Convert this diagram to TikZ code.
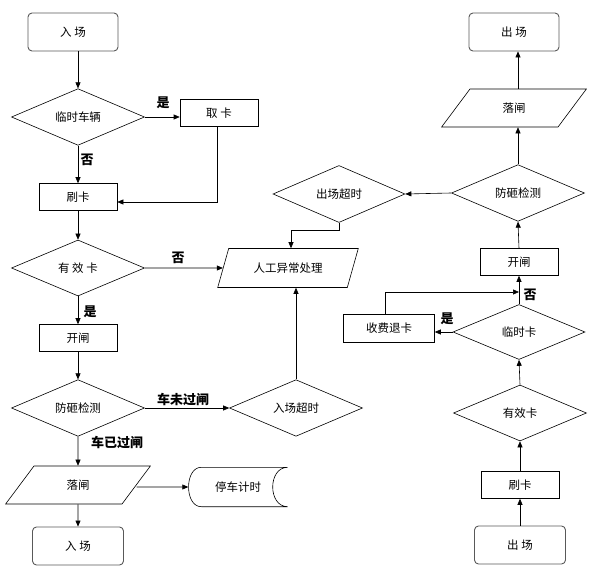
\documentclass[tikz,border=0pt]{standalone}
\usepackage{fontspec}
\setmainfont{Noto Sans CJK SC}
\usetikzlibrary{shapes.geometric,arrows.meta}
\begin{document}
\begin{tikzpicture}[x=1pt,y=-1pt,
  every node/.style={font=\fontsize{11.5}{14}\selectfont,inner sep=0pt},
  term/.style={draw=black!65,line width=0.9pt,rounded corners=4pt,minimum width=90pt,minimum height=38pt},
  proc/.style={draw,line width=0.6pt,minimum width=78pt,minimum height=27pt},
  decide/.style={diamond,draw,line width=0.6pt,minimum width=133pt,minimum height=56pt},
  io/.style={trapezium,trapezium left angle=55,trapezium right angle=125,trapezium stretches=true,draw,line width=0.6pt,minimum width=145pt,minimum height=38pt},
  tag/.style={font=\bfseries\fontsize{13}{15}\selectfont},
  flow/.style={-{Triangle[length=6pt,width=5pt]},line width=0.6pt}]
\useasboundingbox (0,0) rectangle (595,572);
% entry side
\node[term] (in1) at (73,32) {入 场};
\node[decide] (tmp) at (78,117) {临时车辆};
\node[proc] (take) at (219,113) {取 卡};
\node[proc] (swipe1) at (78,197) {刷卡};
\node[decide] (valid1) at (78,268) {有 效 卡};
\node[io,trapezium left angle=59,trapezium right angle=121,minimum width=141pt,minimum height=39pt] (manual) at (288,268) {人工异常处理};
\node[proc] (open1) at (78,338) {开闸};
\node[decide] (guard1) at (78,408) {防砸检测};
\node[decide] (intimeout) at (296,408) {入场超时};
\node[io] (drop1) at (78,485) {落闸};
\node[minimum width=99pt,minimum height=39pt] (timer) at (238,487) {停车计时};
\node[term,minimum width=91pt] (in2) at (78,546) {入 场};
\draw[line width=0.6pt] ([xshift=13pt]timer.north west) -- (timer.north east)
  .. controls ([xshift=-20pt]timer.north east) and ([xshift=-20pt]timer.south east) .. (timer.south east)
  -- ([xshift=13pt]timer.south west)
  .. controls ([xshift=-4pt]timer.south west) and ([xshift=-4pt]timer.north west) .. cycle;
% exit side
\node[term] (out1) at (514,32) {出 场};
\node[io] (drop2) at (514,108) {落闸};
\node[decide] (guard2) at (518,193) {防砸检测};
\node[decide,minimum width=132pt,minimum height=57pt] (outtimeout) at (339,194) {出场超时};
\node[proc] (open2) at (519,262) {开闸};
\node[decide,minimum width=132pt,minimum height=55pt] (tmpcard) at (519,332) {临时卡};
\node[proc,minimum width=91pt,minimum height=28pt] (refund) at (389,328) {收费退卡};
\node[decide] (valid2) at (520,413) {有效卡};
\node[proc] (swipe2) at (520,485) {刷卡};
\node[term,minimum width=91pt] (out2) at (520,545) {出 场};
\coordinate (join) at (519,292);
\coordinate (elbow) at (291,230);
% labels
\node[tag] (yes1) at (163,103) {是};
\node[tag] (no1) at (87,160) {否};
\node[tag] (no2) at (178,258) {否};
\node[tag] (yes2) at (90,312) {是};
\node[tag] (notpassed) at (183,400) {车未过闸};
\node[tag] (passed) at (117,443) {车已过闸};
\node[tag] (yes3) at (447,319) {是};
\node[tag] (no3) at (530,295) {否};
% connectors
\draw[flow] (in1.south -| tmp) -- (tmp.north);
\draw[flow] (tmp.east) -- (tmp.east -| take.west);
\draw[flow] ([xshift=-2pt]take.south) |- ([yshift=-5pt]swipe1.east);
\draw[flow] (tmp.south) -- (swipe1.north);
\draw[flow] (swipe1.south) -- (valid1.north);
\draw[flow] (valid1.east) -- (manual);
\draw[flow] (valid1.south) -- (open1.north);
\draw[flow] (open1.south) -- (guard1.north);
\draw[flow] (guard1.east) -- (intimeout.west);
\draw[flow] (intimeout.north) -- (intimeout.north |- manual.south);
\draw[flow] (guard1.south) -- (drop1.north);
\draw[flow] ([yshift=-2pt]drop1.east) -- (timer.west);
\draw[flow] (drop1.south) -- (in2.north);
\draw[flow] (out2.north) -- (swipe2.south);
\draw[flow] (swipe2.north) -- (valid2.south);
\draw[flow] (valid2.north) -- (tmpcard.south);
\draw[flow] (tmpcard.west) -- (tmpcard.west -| refund.east);
\draw[flow] (tmpcard.north) -- (open2.south);
\draw[flow] ([xshift=-4pt]refund.north) |- (join);
\draw[flow] (open2.north) -- (guard2.south);
\draw[flow] (guard2.north) -- (guard2.north |- drop2.south);
\draw[flow] (drop2.north -| guard2) -- (guard2 |- out1.south);
\draw[flow] (guard2.west) -- (outtimeout.east);
\draw[flow] (outtimeout.south) |- (elbow) -- (elbow |- manual.north);
\end{tikzpicture}
\end{document}
